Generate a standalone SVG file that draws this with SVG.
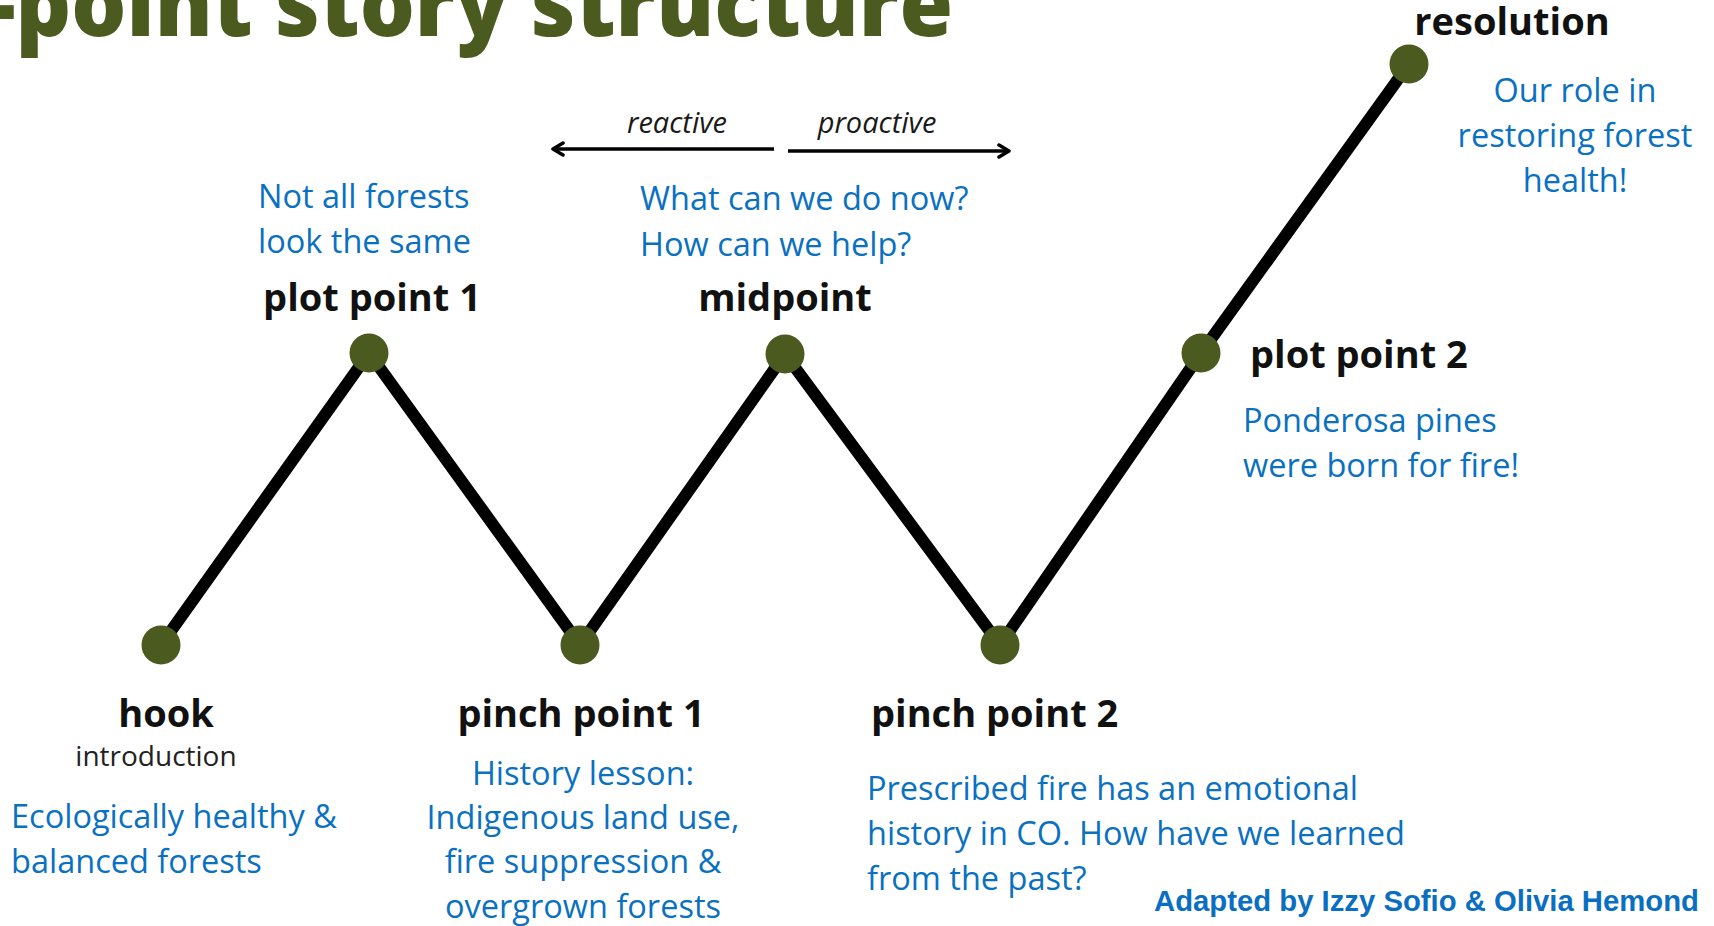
<svg xmlns="http://www.w3.org/2000/svg" width="1714" height="926" viewBox="0 0 1714 926">
<style>
.dot{fill:#4b5a1e}
.lbl{font-family:"Open Sans","Noto Sans",sans-serif;font-weight:700;font-size:38px;fill:#111}
.sub{font-family:"Open Sans","Noto Sans",sans-serif;font-size:28px;fill:#222}
.blue{font-family:"Open Sans","Noto Sans",sans-serif;font-size:32.5px;fill:#0a71c2}
.it{font-family:"Open Sans","Noto Sans",sans-serif;font-style:italic;font-size:29px;fill:#1a1a1a}
.path{stroke:#000;stroke-width:12;fill:none;stroke-linecap:round;stroke-linejoin:round}
.arr{stroke:#000;stroke-width:3.5;fill:none;marker-end:url(#chev)}
</style>
<defs>
<marker id="chev" viewBox="0 0 14 16" refX="12" refY="8" markerWidth="14" markerHeight="16" markerUnits="userSpaceOnUse" orient="auto-start-reverse">
<path d="M2,2 L12,8 L2,14" fill="none" stroke="#000" stroke-width="3.5" stroke-linecap="round" stroke-linejoin="round"/>
</marker>
</defs>
<rect width="1714" height="926" fill="#fff"/>
<g id="title">
<text x="-12" y="36" font-family="'Open Sans',sans-serif" font-weight="800" font-size="90" fill="#4b5a1e" textLength="965" lengthAdjust="spacingAndGlyphs">-point story structure</text>
</g>
<g id="connectors">
<polyline class="path" points="161,645 369,353 580,645 785,354 1000,645 1201,353 1409,64"/>
<line class="arr" x1="774" y1="149" x2="553" y2="149"/>
<line class="arr" x1="788" y1="151" x2="1009" y2="151"/>
<text class="it" x="677" y="133" text-anchor="middle">reactive</text>
<text class="it" x="877" y="133" text-anchor="middle">proactive</text>
</g>
<g id="hook">
<circle class="dot" cx="161" cy="645" r="19.5"/>
<text class="lbl" x="166" y="727" text-anchor="middle">hook</text>
<text class="sub" x="156" y="766" text-anchor="middle">introduction</text>
<text class="blue" x="11" y="828">Ecologically healthy &amp;</text>
<text class="blue" x="11" y="873">balanced forests</text>
</g>
<g id="plot-point-1">
<circle class="dot" cx="369" cy="353" r="19.5"/>
<text class="lbl" x="372" y="311" text-anchor="middle">plot point 1</text>
<text class="blue" x="258" y="208">Not all forests</text>
<text class="blue" x="258" y="253">look the same</text>
</g>
<g id="pinch-point-1">
<circle class="dot" cx="580" cy="645" r="19.5"/>
<text class="lbl" x="581" y="727" text-anchor="middle">pinch point 1</text>
<text class="blue" x="583" y="785" text-anchor="middle">History lesson:</text>
<text class="blue" x="583" y="829" text-anchor="middle">Indigenous land use,</text>
<text class="blue" x="583" y="873" text-anchor="middle">fire suppression &amp;</text>
<text class="blue" x="583" y="918" text-anchor="middle">overgrown forests</text>
</g>
<g id="midpoint">
<circle class="dot" cx="785" cy="354" r="19.5"/>
<text class="lbl" x="785" y="311" text-anchor="middle">midpoint</text>
<text class="blue" x="640" y="210">What can we do now?</text>
<text class="blue" x="640" y="256">How can we help?</text>
</g>
<g id="pinch-point-2">
<circle class="dot" cx="1000" cy="645" r="19.5"/>
<text class="lbl" x="871" y="727">pinch point 2</text>
<text class="blue" x="867" y="800">Prescribed fire has an emotional</text>
<text class="blue" x="867" y="845">history in CO. How have we learned</text>
<text class="blue" x="867" y="890">from the past?</text>
</g>
<g id="plot-point-2">
<circle class="dot" cx="1201" cy="353" r="19.5"/>
<text class="lbl" x="1250" y="368">plot point 2</text>
<text class="blue" x="1243" y="432">Ponderosa pines</text>
<text class="blue" x="1243" y="477">were born for fire!</text>
</g>
<g id="resolution">
<circle class="dot" cx="1409" cy="64" r="19.5"/>
<text class="lbl" x="1512" y="35" text-anchor="middle">resolution</text>
<text class="blue" x="1575" y="102" text-anchor="middle">Our role in</text>
<text class="blue" x="1575" y="147" text-anchor="middle">restoring forest</text>
<text class="blue" x="1575" y="192" text-anchor="middle">health!</text>
</g>
<g id="credit">
<text x="1154" y="911" font-family="'Liberation Sans',Arial,sans-serif" font-weight="700" font-size="29" fill="#0a6fc2" textLength="545" lengthAdjust="spacingAndGlyphs">Adapted by Izzy Sofio &amp; Olivia Hemond</text>
</g>
</svg>
